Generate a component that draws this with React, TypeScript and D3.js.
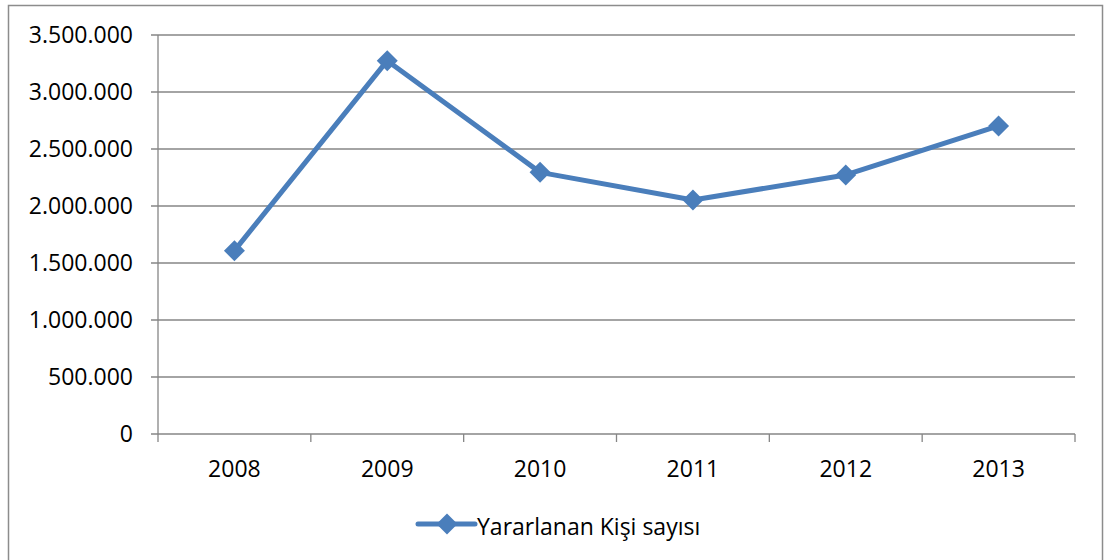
import React from "react";
import * as d3 from "d3";

const categories = ["2008", "2009", "2010", "2011", "2012", "2013"];
const values = [1608000, 3275000, 2295000, 2053000, 2272000, 2702000];
const yTicks = [0, 500000, 1000000, 1500000, 2000000, 2500000, 3000000, 3500000];
const seriesName = "Yararlanan Kişi sayısı";

const W = 1113;
const H = 560;
const left = 158;
const right = 1075;
const top = 35;
const bottom = 434;
const FONT = "'Open Sans', sans-serif";
const BLUE = "#4A7EBB";
const GRID = "#868686";

const fmt = (v: number) =>
  v === 0 ? "0" : d3.format(",")(v).replace(/,/g, ".");

export default function App() {
  const x = d3.scaleBand<string>().domain(categories).range([left, right]);
  const y = d3.scaleLinear().domain([0, 3500000]).range([bottom, top]);
  const cx = (c: string) => (x(c) as number) + x.bandwidth() / 2;
  const line = d3
    .line<number>()
    .x((_, i) => cx(categories[i]))
    .y((d) => y(d));
  const diamond = (px: number, py: number, r: number) =>
    `M${px},${py - r}L${px + r},${py}L${px},${py + r}L${px - r},${py}Z`;
  const edges = categories.map((c) => x(c) as number).concat([right]);

  return (
    <svg
      width={W}
      height={H}
      style={{ position: "absolute", left: 0, top: 0, display: "block", background: "#fff" }}
    >
      <rect x={8.5} y={5.5} width={1094} height={570} fill="#fff" stroke="#8c8c8c" strokeWidth={1.5} />
      {yTicks.map((t) => (
        <g key={t}>
          <line x1={left - 7} x2={right} y1={y(t)} y2={y(t)} stroke={GRID} strokeWidth={1.3} />
          <text
            x={133}
            y={y(t)}
            dy="0.35em"
            textAnchor="end"
            fontFamily={FONT}
            fontSize={23}
            fill="#000"
          >
            {fmt(t)}
          </text>
        </g>
      ))}
      <line x1={left} x2={left} y1={top} y2={bottom} stroke={GRID} strokeWidth={1.3} />
      {edges.map((e, i) => (
        <line key={i} x1={e} x2={e} y1={bottom} y2={bottom + 8} stroke={GRID} strokeWidth={1.3} />
      ))}
      {categories.map((c) => (
        <text
          key={c}
          x={cx(c)}
          y={477}
          textAnchor="middle"
          fontFamily={FONT}
          fontSize={23}
          fill="#000"
        >
          {c}
        </text>
      ))}
      <path d={line(values) as string} fill="none" stroke={BLUE} strokeWidth={5} strokeLinejoin="round" />
      {values.map((v, i) => (
        <path key={i} d={diamond(cx(categories[i]), y(v), 10.5)} fill={BLUE} />
      ))}
      <line x1={418} x2={475} y1={524} y2={524} stroke={BLUE} strokeWidth={5} strokeLinecap="round" />
      <path d={diamond(447, 524, 10.5)} fill={BLUE} />
      <text x={477} y={535} fontFamily={FONT} fontSize={23} fill="#000">
        {seriesName}
      </text>
    </svg>
  );
}
